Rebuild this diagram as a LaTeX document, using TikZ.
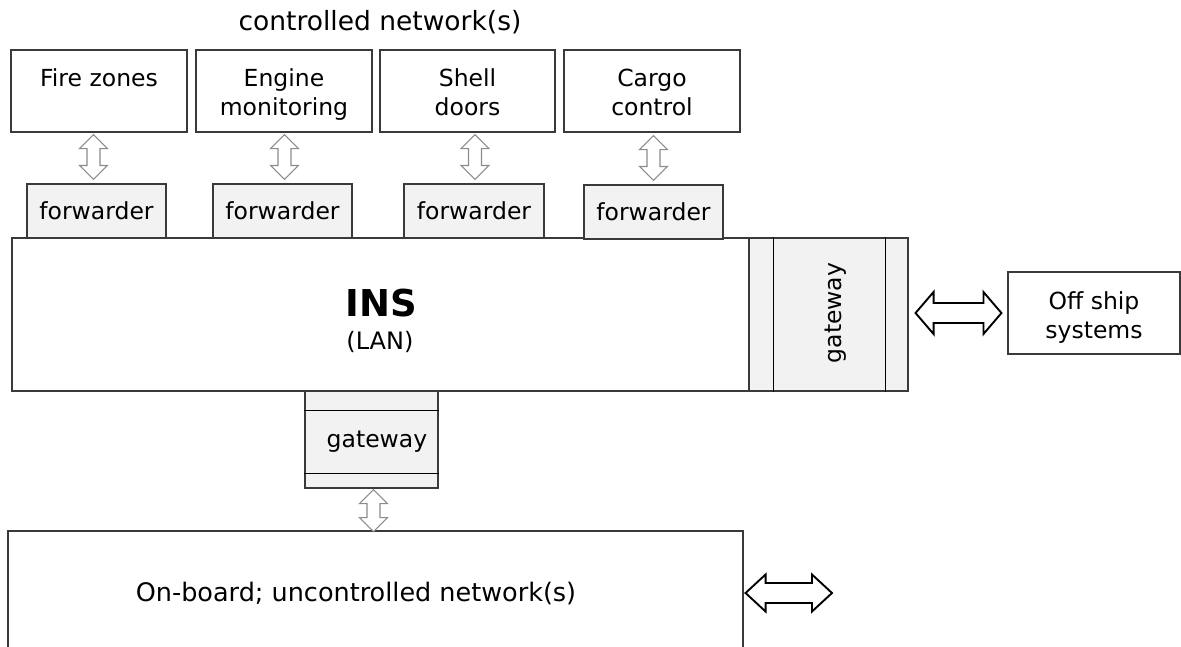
\documentclass[tikz,border=0pt]{standalone}
\usepackage{fontspec}
\setmainfont{DejaVu Sans}
\usetikzlibrary{calc}
\definecolor{fwdfill}{HTML}{F2F2F2}
\definecolor{edge}{HTML}{3A3A3A}
\newcommand\tstrut{\rule{0pt}{28.5pt}}
\newcommand\vdarrow[6]{%
  \draw[#1] let \p1=(#2), \p2=(#3) in
    (\x1,\y1) -- (\x1+#5,\y1-#6) -- (\x1+#4,\y1-#6) -- (\x1+#4,\y2+#6) -- (\x1+#5,\y2+#6)
    -- (\x1,\y2) -- (\x1-#5,\y2+#6) -- (\x1-#4,\y2+#6) -- (\x1-#4,\y1-#6) -- (\x1-#5,\y1-#6) -- cycle;}
\newcommand\hdarrow[6]{%
  \draw[#1] let \p1=(#2), \p2=(#3) in
    (\x1,\y1) -- (\x1+#6,\y1+#5) -- (\x1+#6,\y1+#4) -- (\x2-#6,\y1+#4) -- (\x2-#6,\y1+#5)
    -- (\x2,\y1) -- (\x2-#6,\y1-#5) -- (\x2-#6,\y1-#4) -- (\x1+#6,\y1-#4) -- (\x1+#6,\y1-#5) -- cycle;}
\begin{document}
\begin{tikzpicture}[x=1pt,y=-1pt,
  txt/.style={font=\fontsize{23.5}{29}\selectfont},
  box/.style={draw=edge, line width=1.1pt, fill=white, inner sep=0pt, align=center, txt},
  fwd/.style={box, fill=fwdfill},
  gline/.style={draw=black, line width=1.8pt},
  gar/.style={draw=black!45, fill=white, line width=1.1pt, line join=miter},
  bar/.style={draw=black, fill=white, line width=1.9pt, line join=miter}]
\useasboundingbox (0,0) rectangle (1181,646);
\clip (0,0) rectangle (1181,646);

% title
\node[font=\fontsize{26.5}{30}\selectfont] (title) at (380,22) {controlled network(s)};

% controlled networks
\node[box, minimum width=176, minimum height=82] (fz) at (99,91) {\tstrut Fire zones\\\strut};
\node[box, minimum width=176, minimum height=82] (em) at (284,91) {\tstrut Engine\\\strut monitoring};
\node[box, minimum width=175, minimum height=82] (sd) at (467.5,91) {\tstrut Shell\\\strut doors};
\node[box, minimum width=176, minimum height=82] (cc) at (652,91) {\tstrut Cargo\\\strut control};

% INS
\node[box, minimum width=896, minimum height=153] (ins) at (460,314.5) {};
\node[font=\fontsize{37}{40}\selectfont\bfseries] (inst) at (381,303) {INS};
\node[font=\fontsize{24}{28}\selectfont] (lan) at (380,342) {(LAN)};

% forwarders
\node[fwd, minimum width=139, minimum height=54] (fw1) at (96.5,211) {forwarder};
\node[fwd, minimum width=139, minimum height=54] (fw2) at (282.5,211) {forwarder};
\node[fwd, minimum width=140, minimum height=54] (fw3) at (474,211) {forwarder};
\node[fwd, minimum width=139, minimum height=54] (fw4) at (653.5,212) {forwarder};

% right gateway
\node[fwd, minimum width=159, minimum height=153] (gwr) at (828.5,314.5) {};
\draw[gline] ([xshift=25pt]gwr.north west) -- ([xshift=25pt]gwr.south west);
\draw[gline] ([xshift=-23pt]gwr.north east) -- ([xshift=-23pt]gwr.south east);
\node[txt, rotate=90] (gwrt) at (836,313) {gateway};

% bottom gateway
\node[fwd, minimum width=133, minimum height=97] (gwb) at (371.5,439.5) {};
\draw[gline] ([yshift=-20pt]gwb.north west) -- ([yshift=-20pt]gwb.north east);
\draw[gline] ([yshift=15pt]gwb.south west) -- ([yshift=15pt]gwb.south east);
\node[txt] (gwbt) at (377,442) {gateway};

% off ship
\node[box, minimum width=172, minimum height=82] (off) at (1094,313) {\rule{0pt}{30pt}Off ship\\\strut systems};

% on-board
\node[box, minimum width=735, minimum height=140] (ob) at (375.5,601) {};
\node[font=\fontsize{25.5}{30}\selectfont] (obt) at (356,593) {On-board; uncontrolled network(s)};
\coordinate (obend) at (832,593);

% gray double arrows
\vdarrow{gar}{$(fz.south -| fw1.north)+(-3,2)$}{$(fw1.north)+(-3,-4)$}{6.5pt}{14pt}{14pt}
\vdarrow{gar}{$(em.south -| fw2.north)+(2,2)$}{$(fw2.north)+(2,-4)$}{6.5pt}{14pt}{14pt}
\vdarrow{gar}{$(sd.south -| fw3.north)+(1,2)$}{$(fw3.north)+(1,-4)$}{6.5pt}{14pt}{14pt}
\vdarrow{gar}{$(cc.south -| fw4.north)+(0,3)$}{$(fw4.north)+(0,-4)$}{6.5pt}{14pt}{14pt}
\vdarrow{gar}{$(gwb.south)+(2,1)$}{$(gwb.south -| ob.north)+(2,43)$}{6.5pt}{14pt}{14pt}

% black double arrows
\hdarrow{bar}{$(gwr.east)+(7,-1.5)$}{$(off.west)+(-6,0)$}{10pt}{21pt}{18pt}
\hdarrow{bar}{$(obt.center -| ob.east)+(2,0)$}{obend}{10pt}{18.5pt}{20pt}
\end{tikzpicture}
\end{document}
